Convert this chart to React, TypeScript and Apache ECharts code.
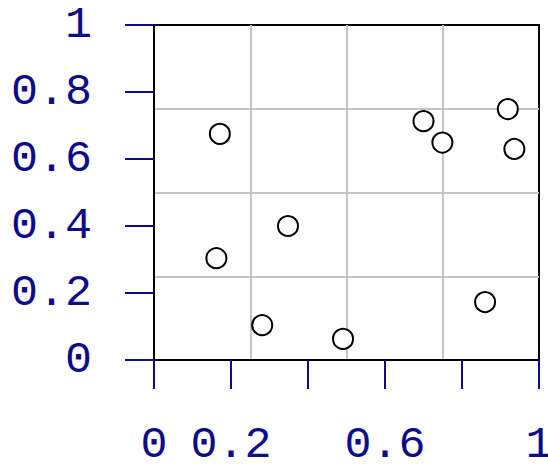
import React, { useEffect, useRef } from "react";
import * as echarts from "echarts";

const pointsX = [0.171, 0.162, 0.348, 0.281, 0.491, 0.700, 0.749, 0.919, 0.936, 0.860];
const pointsY = [0.675, 0.304, 0.400, 0.104, 0.063, 0.713, 0.649, 0.749, 0.630, 0.173];
const xTickLabels: Record<string, string> = { "0": "0", "0.2": "0.2", "0.4": "", "0.6": "0.6", "0.8": "", "1": "1" };
const yTickLabels: Record<string, string> = { "0": "0", "0.2": "0.2", "0.4": "0.4", "0.6": "0.6", "0.8": "0.8", "1": "1" };

const NAVY = "#0c0c8a";
const FONT = "'Liberation Mono', monospace";

export default function App() {
  const ref = useRef<HTMLDivElement>(null);
  useEffect(() => {
    const chart = echarts.init(ref.current!, undefined, { renderer: "svg" });
    const data = pointsX.map((x, i) => [x, pointsY[i]]);
    const fmt = (map: Record<string, string>) => (v: number) => {
      const k = String(Math.round(v * 10) / 10);
      return map[k] ?? "";
    };
    chart.setOption({
      animation: false,
      backgroundColor: "#fff",
      grid: {
        left: 154, right: 9, top: 25, bottom: 106,
        containLabel: false, outerBoundsMode: "none",
        show: true, borderColor: "#000", borderWidth: 2, backgroundColor: "transparent",
      },
      xAxis: [
        {
          type: "value", min: 0, max: 1, interval: 0.2, position: "bottom",
          axisLine: { show: true, lineStyle: { color: "#000", width: 2 } },
          axisTick: { show: true, length: 29, inside: false, lineStyle: { color: NAVY, width: 2 } },
          axisLabel: {
            show: true, formatter: fmt(xTickLabels), color: NAVY, fontFamily: FONT, fontSize: 45,
            lineHeight: 34, margin: 68, showMinLabel: true, showMaxLabel: true, hideOverlap: false,
          },
          splitLine: { show: false },
        },
        {
          type: "value", min: 0, max: 1, interval: 0.25, position: "top",
          axisLine: { show: false }, axisTick: { show: false }, axisLabel: { show: false },
          splitLine: { show: true, showMinLine: false, showMaxLine: false, lineStyle: { color: "#c4c4c4", width: 2 } },
        },
      ],
      yAxis: [
        {
          type: "value", min: 0, max: 1, interval: 0.2, position: "left",
          axisLine: { show: true, lineStyle: { color: "#000", width: 2 } },
          axisTick: { show: true, length: 29, inside: false, lineStyle: { color: NAVY, width: 2 } },
          axisLabel: {
            show: true, formatter: fmt(yTickLabels), color: NAVY, fontFamily: FONT, fontSize: 45,
            margin: 62, showMinLabel: true, showMaxLabel: true,
          },
          splitLine: { show: false },
        },
        {
          type: "value", min: 0, max: 1, interval: 0.25, position: "right",
          axisLine: { show: false }, axisTick: { show: false }, axisLabel: { show: false },
          splitLine: { show: true, showMinLine: false, showMaxLine: false, lineStyle: { color: "#c4c4c4", width: 2 } },
        },
      ],
      series: [
        {
          type: "scatter", xAxisIndex: 0, yAxisIndex: 0, data,
          symbol: "circle", symbolSize: 20,
          itemStyle: { color: "#fff", borderColor: "#000", borderWidth: 2, opacity: 1 },
          z: 10,
        },
      ],
    });
    return () => chart.dispose();
  }, []);
  return (
    <div
      ref={ref}
      style={{ position: "fixed", left: 0, top: 0, width: 548, height: 466 }}
    />
  );
}
